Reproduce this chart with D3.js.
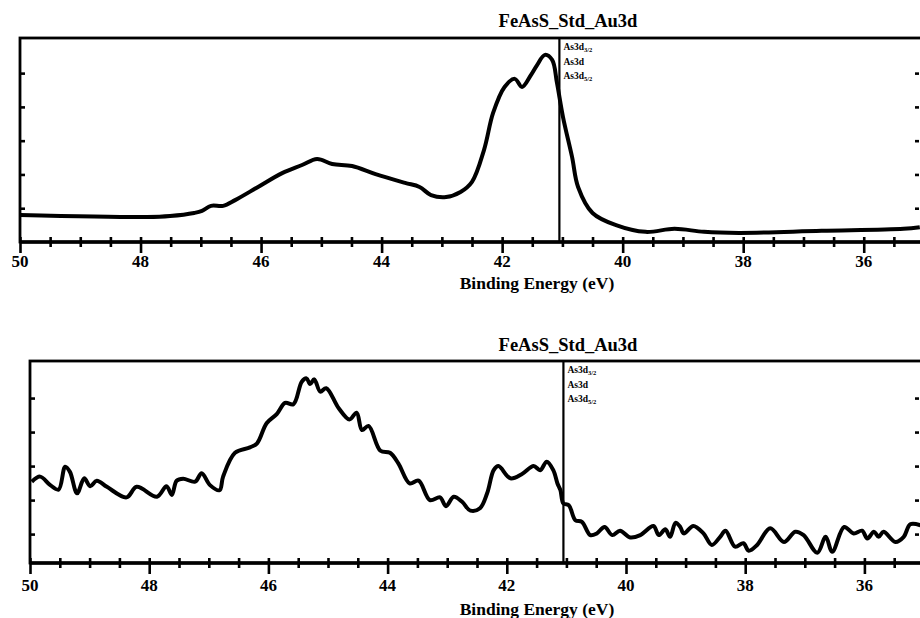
<!DOCTYPE html>
<html>
<head>
<meta charset="utf-8">
<script src="https://cdn.jsdelivr.net/npm/d3@7"></script>
<style>
body { margin: 0; background: #fff; }
text { font-family: "Liberation Serif", "DejaVu Serif", serif; font-weight: bold; fill: #000; }
</style>
</head>
<body>
<div id="canvas"></div>
<script>
var canvasWidth = 920;
var canvasHeight = 618;

// data
var chartTitle = "FeAsS_Std_Au3d";
var xAxisTitle = "Binding Energy (eV)";
var xTickLabels = [50, 48, 46, 44, 42, 40, 38, 36];
var yTickValues = [1, 2, 3, 4, 5];
var peakPosition = 41.05;
var peakNames = ["As3d", "As3d", "As3d"];
var peakSubs = ["3/2", "", "5/2"];

var topEnergy = [50.0, 47.89, 47.51, 47.11, 46.98, 46.83, 46.63, 46.43, 46.05, 45.65,
                 45.32, 45.07, 44.82, 44.49, 44.10, 43.61, 43.37, 43.18, 42.93, 42.69,
                 42.50, 42.30, 42.15, 41.96, 41.79, 41.67, 41.52, 41.42, 41.29, 41.17,
                 41.09, 40.99, 40.84, 40.74, 40.50, 40.11, 39.62, 39.14, 38.65, 38.07,
                 36.70, 35.34, 35.07];
var topIntensity = [0.80, 0.74, 0.77, 0.86, 0.92, 1.07, 1.07, 1.24, 1.63, 2.04,
                    2.28, 2.46, 2.31, 2.25, 2.01, 1.75, 1.63, 1.39, 1.33, 1.48,
                    1.78, 2.73, 3.82, 4.59, 4.83, 4.59, 4.95, 5.24, 5.54, 5.39,
                    4.71, 3.70, 2.52, 1.63, 0.86, 0.50, 0.30, 0.39, 0.30, 0.27,
                    0.33, 0.39, 0.44];

var bottomEnergy = [49.97, 49.83, 49.66, 49.52, 49.41, 49.33, 49.21, 49.09, 48.99, 48.88,
                    48.71, 48.38, 48.21, 47.87, 47.71, 47.62, 47.54, 47.43, 47.23, 47.12,
                    46.98, 46.82, 46.76, 46.56, 46.31, 46.19, 46.03, 45.86, 45.72, 45.58,
                    45.44, 45.36, 45.30, 45.23, 45.13, 45.03, 44.82, 44.64, 44.52, 44.43,
                    44.32, 44.12, 43.96, 43.82, 43.63, 43.48, 43.29, 43.12, 43.02, 42.89,
                    42.75, 42.61, 42.45, 42.33, 42.22, 42.14, 41.94, 41.75, 41.55, 41.44,
                    41.33, 41.22, 41.15, 41.10, 41.05, 40.96, 40.85, 40.74, 40.60, 40.49,
                    40.36, 40.23, 40.10, 39.93, 39.76, 39.54, 39.45, 39.34, 39.26, 39.17,
                    39.09, 39.03, 38.87, 38.70, 38.56, 38.42, 38.33, 38.17, 38.03, 37.94,
                    37.80, 37.58, 37.35, 37.16, 37.02, 36.79, 36.65, 36.54, 36.34, 36.18,
                    36.04, 35.95, 35.84, 35.76, 35.68, 35.48, 35.34, 35.23, 35.06];
var bottomIntensity = [2.54, 2.69, 2.44, 2.31, 2.98, 2.83, 2.20, 2.64, 2.41, 2.57,
                       2.39, 2.08, 2.39, 2.10, 2.41, 2.15, 2.57, 2.63, 2.54, 2.79,
                       2.44, 2.29, 2.69, 3.39, 3.55, 3.67, 4.26, 4.53, 4.86, 4.82,
                       5.48, 5.58, 5.41, 5.55, 5.19, 5.29, 4.70, 4.37, 4.57, 4.06,
                       4.18, 3.45, 3.39, 3.08, 2.49, 2.57, 2.00, 2.08, 1.82, 2.10,
                       1.95, 1.69, 1.76, 2.20, 2.88, 3.00, 2.64, 2.76, 3.00, 2.88,
                       3.13, 2.88, 2.49, 2.29, 1.90, 1.85, 1.41, 1.36, 0.97, 1.02,
                       1.21, 0.97, 1.10, 0.90, 0.97, 1.24, 0.97, 1.14, 0.92, 1.33,
                       1.21, 1.02, 1.24, 1.02, 0.68, 0.92, 1.10, 0.63, 0.73, 0.51,
                       0.68, 1.17, 0.77, 1.07, 0.97, 0.45, 0.92, 0.48, 1.21, 1.02,
                       1.10, 0.87, 1.07, 0.92, 1.07, 0.77, 0.92, 1.29, 1.26];

// panel layout
var panels = [
    { energy: topEnergy, intensity: topIntensity,
      left: 20, right: 924, top: 38, bottom: 242, yMin: 0, yMax: 6.04,
      titleY: 27, labelY: 267, axisTitleY: 289, peakY: 50 },
    { energy: bottomEnergy, intensity: bottomIntensity,
      left: 30, right: 924, top: 361, bottom: 563, yMin: 0.15, yMax: 6.09,
      titleY: 351, labelY: 591, axisTitleY: 615, peakY: 373 }
];

function resetSVGCanvas()
{
    var plotCanvas = d3.select("#canvas").append("svg");

    plotCanvas.attr("id", "plotCanvas")
              .attr("width", canvasWidth)
              .attr("height", canvasHeight)
              .attr("viewBox", "0 0 " + canvasWidth + " " + canvasHeight);
    return plotCanvas;
}

function drawPanel(canvas, p)
{
    var x = d3.scaleLinear().domain([50, 35]).range([p.left, p.right]);
    var y = d3.scaleLinear().domain([p.yMin, p.yMax]).range([p.bottom, p.top]);
    var g = canvas.append("g");

    // frame
    g.append("rect")
        .attr("x", p.left)
        .attr("y", p.top)
        .attr("width", p.right - p.left)
        .attr("height", p.bottom - p.top)
        .attr("fill", "none")
        .attr("stroke", "black")
        .attr("stroke-width", 2.8);

    // left and right y ticks, pointing inward
    g.append("g")
        .attr("transform", "translate(" + p.left + ",0)")
        .call(d3.axisRight(y).tickValues(yTickValues).tickSize(5).tickFormat(""))
        .call(function(a) { a.select(".domain").remove(); })
        .selectAll("line").attr("stroke-width", 2.6);

    g.append("g")
        .attr("transform", "translate(" + (canvasWidth - 1) + ",0)")
        .call(d3.axisLeft(y).tickValues(yTickValues).tickSize(4).tickFormat(""))
        .call(function(a) { a.select(".domain").remove(); })
        .selectAll("line").attr("stroke-width", 2.6);

    // x axis: minor ticks every 0.5 eV crossing the line, labelled majors longer
    var minorTicks = d3.range(35, 50.01, 0.5);
    var xAxis = g.append("g")
        .attr("transform", "translate(0," + p.bottom + ")")
        .call(d3.axisBottom(x).tickValues(minorTicks).tickSize(5).tickFormat(""));
    xAxis.select(".domain").remove();
    xAxis.selectAll(".tick line")
        .attr("y1", -5)
        .attr("y2", function(d) { return xTickLabels.indexOf(d) >= 0 ? 11 : 5; })
        .attr("stroke-width", 2.6);

    g.append("line")
        .attr("x1", p.left)
        .attr("x2", p.right)
        .attr("y1", p.bottom)
        .attr("y2", p.bottom)
        .attr("stroke", "black")
        .attr("stroke-width", 3.6);

    g.selectAll(".xlabel")
        .data(xTickLabels)
        .enter().append("text")
        .attr("class", "xlabel")
        .attr("x", function(d) { return x(d); })
        .attr("y", p.labelY)
        .attr("text-anchor", "middle")
        .attr("font-size", 17)
        .text(function(d) { return d; });

    g.append("text")
        .attr("x", 537)
        .attr("y", p.axisTitleY)
        .attr("text-anchor", "middle")
        .attr("font-size", 17.5)
        .text(xAxisTitle);

    g.append("text")
        .attr("x", 568)
        .attr("y", p.titleY)
        .attr("text-anchor", "middle")
        .attr("font-size", 18.5)
        .text(chartTitle);

    // peak marker
    g.append("line")
        .attr("x1", x(peakPosition))
        .attr("x2", x(peakPosition))
        .attr("y1", p.top)
        .attr("y2", p.bottom)
        .attr("stroke", "black")
        .attr("stroke-width", 2.2);

    peakNames.forEach(function(name, i) {
        var t = g.append("text")
            .attr("x", x(peakPosition) + 4)
            .attr("y", p.peakY + i * 14.5)
            .attr("font-size", 9.5)
            .attr("font-weight", "normal")
            .text(name);
        if(peakSubs[i] != "")
            t.append("tspan")
                .attr("font-size", 6.5)
                .attr("dy", 1.5)
                .text(peakSubs[i]);
    });

    // spectrum
    var pts = p.energy.map(function(e, i) { return [e, p.intensity[i]]; });
    var line = d3.line()
        .x(function(d) { return x(d[0]); })
        .y(function(d) { return y(d[1]); })
        .curve(d3.curveCatmullRom.alpha(0.5));

    g.append("path")
        .attr("d", line(pts))
        .attr("fill", "none")
        .attr("stroke", "black")
        .attr("stroke-width", 4)
        .attr("stroke-linejoin", "round");
}

var canvas = resetSVGCanvas();
panels.forEach(function(p) { drawPanel(canvas, p); });
</script>
</body>
</html>
